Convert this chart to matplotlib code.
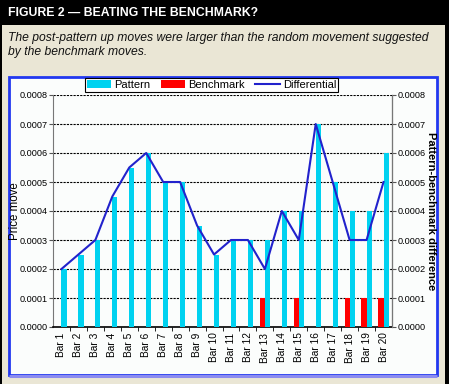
import matplotlib
matplotlib.use("Agg")
import matplotlib.pyplot as plt
import numpy as np
from matplotlib.patches import Rectangle
from matplotlib.ticker import FormatStrFormatter, FixedLocator

plt.rcParams['font.family'] = ['Liberation Sans', 'DejaVu Sans']

categories = [f"Bar {i}" for i in range(1, 21)]
pattern = [0.0002, 0.00025, 0.0003, 0.00045, 0.00055, 0.0006, 0.0005, 0.0005, 0.00035, 0.00025,
           0.0003, 0.0003, 0.0003, 0.0004, 0.0004, 0.0007, 0.0005, 0.0004, 0.0004, 0.0006]
benchmark = [0, 0, 0, 0, 0, 0, 0, 0, 0, 0,
             0, 0, 0.0001, 0, 0.0001, 0, 0, 0.0001, 0.0001, 0.0001]
differential = [0.0002, 0.00025, 0.0003, 0.00045, 0.00055, 0.0006, 0.0005, 0.0005, 0.00035, 0.00025,
                0.0003, 0.0003, 0.0002, 0.0004, 0.0003, 0.0007, 0.0005, 0.0003, 0.0003, 0.0005]

W, H = 449, 384
fig = plt.figure(figsize=(W / 100, H / 100), dpi=100, facecolor='black')

def px(x0, y0, x1, y1):
    return (x0 / W, 1 - y1 / H, (x1 - x0) / W, (y1 - y0) / H)

bg = fig.add_axes([0, 0, 1, 1], zorder=-10)
bg.set_xlim(0, W)
bg.set_ylim(H, 0)
bg.axis('off')
bg.add_patch(Rectangle((2, 25), 443, 359, facecolor='#EAE6D5', edgecolor='none'))
bg.add_patch(Rectangle((9, 77), 428, 298, facecolor='#FBFDFC', edgecolor='#2238F0', linewidth=2.0))
bg.plot([9, 437], [375.5, 375.5], color='#8C8CF0', linewidth=2.2, solid_capstyle='butt')

fig.text(8 / W, 1 - 13 / H, "FIGURE 2 \u2014 BEATING THE BENCHMARK?", color='white',
         fontsize=8.8, fontweight='bold', va='center', ha='left')
fig.text(8 / W, 1 - 45 / H,
         "The post-pattern up moves were larger than the random movement suggested\nby the benchmark moves.",
         color='#111111', fontsize=8.7, style='italic', va='center', ha='left', linespacing=1.15)

ax = fig.add_axes(px(53, 95, 392, 327))
ax.set_facecolor('none')
x = np.arange(len(categories))
bw_ = 0.3
ax.bar(x - bw_ / 2, benchmark, width=bw_, color='#FF0000', label='Benchmark', zorder=3)
ax.bar(x + bw_ / 2, pattern, width=bw_, color='#00D2F0', label='Pattern', zorder=3)
ax.set_xlim(-0.5, len(categories) - 0.5)
ax.set_ylim(0, 0.0008)
ax.set_yticks(np.arange(0, 0.00081, 0.0001))
ax.yaxis.set_major_formatter(FormatStrFormatter('%.4f'))
ax.yaxis.grid(True, color='black', linestyle=(0, (2, 1)), linewidth=0.8, zorder=1)
ax.set_axisbelow(True)
ax.set_xticks(x)
ax.set_xticklabels(categories, rotation=90, fontsize=7.3)
ax.tick_params(axis='x', length=0, pad=4)
ax.xaxis.set_minor_locator(FixedLocator(np.arange(0.5, len(categories) - 0.5, 1)))
ax.tick_params(axis='x', which='minor', length=3, direction='out', color='black')
ax.tick_params(axis='y', labelsize=6.6, length=3, direction='out', pad=1, color='#555555')
ax.spines['top'].set_visible(False)
ax.spines['left'].set_color('#777777')
ax.spines['bottom'].set_color('black')
ax.spines['bottom'].set_linewidth(1.2)
ax.set_ylabel("Price move", fontsize=8.3, va='center')
ax.yaxis.set_label_coords((15 - 53) / 339, 0.5)

ax2 = ax.twinx()
line, = ax2.plot(x, differential, color='#2222CC', linewidth=1.5, label='Differential', zorder=4)
ax2.set_ylim(0, 0.0008)
ax2.set_yticks(np.arange(0, 0.00081, 0.0001))
ax2.yaxis.set_major_formatter(FormatStrFormatter('%.4f'))
ax2.tick_params(axis='y', labelsize=6.6, length=3, direction='out', pad=1, color='#555555')
ax2.spines['top'].set_visible(False)
ax2.spines['right'].set_color('#777777')
ax2.spines['left'].set_visible(False)
ax2.spines['bottom'].set_visible(False)
ax2.set_ylabel("Pattern-benchmark difference", fontsize=8, fontweight='bold', rotation=270,
               va='center')
ax2.yaxis.set_label_coords((431 - 53) / 339, 0.5)

h1, l1 = ax.get_legend_handles_labels()
order = [1, 0]
handles = [h1[i] for i in order] + [line]
labels = [l1[i] for i in order] + ['Differential']
leg = fig.legend(handles, labels, loc='center', bbox_to_anchor=((88 + 335) / 2 / W, 1 - 85 / H),
                 ncol=3, fontsize=8, frameon=True, fancybox=False, edgecolor='black',
                 borderpad=0.15, handlelength=2.2, handletextpad=0.3, columnspacing=0.9,
                 handleheight=0.8, framealpha=1)
leg.get_frame().set_linewidth(0.8)

fig.savefig("out.png", dpi=100, facecolor=fig.get_facecolor())
